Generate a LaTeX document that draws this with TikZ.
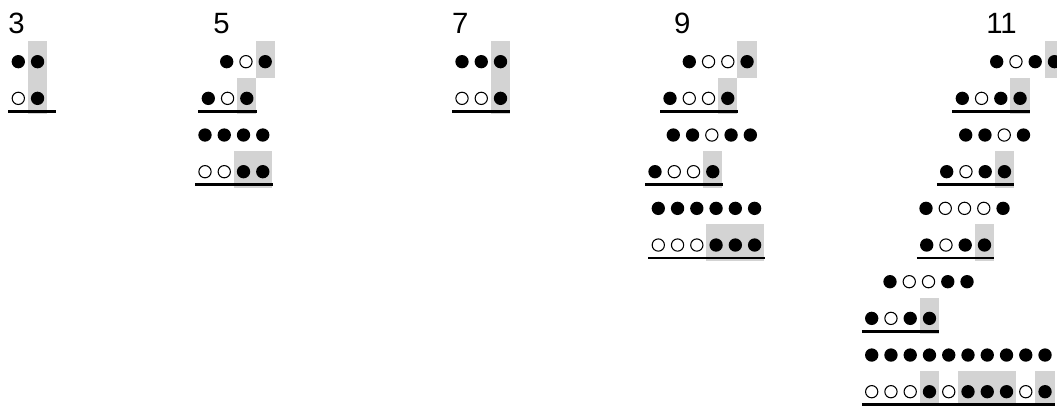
\documentclass[tikz,border=0pt]{standalone}
\usepackage{fontspec}
\setmainfont{Liberation Sans}
\definecolor{cellgray}{RGB}{211,211,211}

\begin{document}
\begin{tikzpicture}[x=0.75pt,y=-0.75pt,
    cell/.style={rectangle,inner sep=0pt,minimum width=14.45pt,minimum height=27.5pt},
    fdot/.style={cell,path picture={\fill[black] ([yshift=-1.78pt]path picture bounding box.center) circle (5pt);}},
    odot/.style={cell,path picture={\draw[black,line width=0.8pt] ([yshift=-1.78pt]path picture bounding box.center) circle (4.6pt);}},
    gdot/.style={fdot,fill=cellgray},
    uline/.style={line width=2pt},
    num/.style={anchor=base west,inner sep=0pt,font=\fontsize{22}{26}\selectfont}]
  \useasboundingbox (0,0) rectangle (1057,405);
  % column headings
  \node[num] (n3)  at (8.0,33)   {3};
  \node[num] (n5)  at (213,33)   {5};
  \node[num] (n7)  at (451.8,33) {7};
  \node[num] (n9)  at (673.8,33) {9};
  \node[num] (n11) at (986,33)   {11};
  % rows of dots: name / left x / row / cells
  \foreach \nm/\xs/\r/\cells in {
      g3r0/18.3/0/{fdot,gdot},
      g3r1/18.3/1/{odot,gdot},
      g5r0/226.7/0/{fdot,odot,gdot},
      g5r1/208.3/1/{fdot,odot,gdot},
      g5r2/205/2/{fdot,fdot,fdot,fdot},
      g5r3/205/3/{odot,odot,gdot,gdot},
      g7r0/462/0/{fdot,fdot,gdot},
      g7r1/462/1/{odot,odot,gdot},
      g9r0/689.3/0/{fdot,odot,odot,gdot},
      g9r1/670/1/{fdot,odot,odot,gdot},
      g9r2/673.3/2/{fdot,fdot,odot,fdot,fdot},
      g9r3/655/3/{fdot,odot,odot,gdot},
      g9r4/658.3/4/{fdot,fdot,fdot,fdot,fdot,fdot},
      g9r5/658.3/5/{odot,odot,odot,gdot,gdot,gdot},
      g11r0/996.7/0/{fdot,odot,fdot,gdot},
      g11r1/962.3/1/{fdot,odot,fdot,gdot},
      g11r2/965.7/2/{fdot,fdot,odot,fdot},
      g11r3/946.7/3/{fdot,odot,fdot,gdot},
      g11r4/926/4/{fdot,odot,odot,odot,fdot},
      g11r5/926.7/5/{fdot,odot,fdot,gdot},
      g11r6/890/6/{fdot,odot,odot,fdot,fdot},
      g11r7/871.7/7/{fdot,odot,fdot,gdot},
      g11r8/871.7/8/{fdot,fdot,fdot,fdot,fdot,fdot,fdot,fdot,fdot,fdot},
      g11r9/871.7/9/{odot,odot,odot,gdot,odot,gdot,gdot,gdot,odot,gdot}}
    \foreach \c [count=\i from 0] in \cells
      \node[\c] (\nm-\i) at (\xs+\i*19.26,59.3+\r*36.67) {};
  % underlines
  \foreach \nm/\last/\ext in {g3r1/1/6.6pt,g5r1/2/0pt,g5r3/3/0pt,g7r1/2/0pt,
      g9r1/3/0pt,g9r3/3/0pt,g9r5/5/0pt,g11r1/3/0pt,g11r3/3/0pt,
      g11r5/3/0pt,g11r7/3/0pt,g11r9/9/0pt}
    \draw[uline] ([yshift=2.5pt]\nm-0.south west) -- ([xshift=\ext,yshift=2.5pt]\nm-\last.south east);
\end{tikzpicture}
\end{document}
